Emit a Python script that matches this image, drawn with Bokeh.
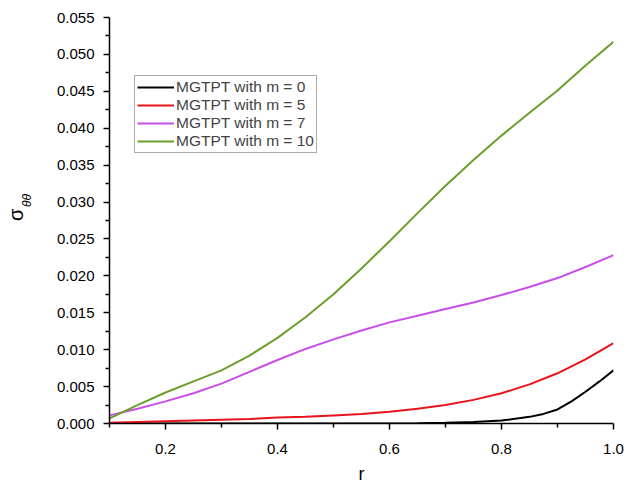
from bokeh.plotting import figure
from bokeh.models import Range1d, FixedTicker, Legend, LegendItem, LinearAxis, CustomJSTickFormatter
from bokeh.embed import file_html
from bokeh.resources import INLINE

r_vals = [0.10, 0.15, 0.20, 0.25, 0.30, 0.35, 0.40, 0.45, 0.50, 0.55,
          0.60, 0.65, 0.70, 0.75, 0.80, 0.85, 0.90, 0.95, 1.00]
m10 = [0.0007, 0.0025, 0.0042, 0.0057, 0.0072, 0.0092, 0.0116, 0.0144, 0.0175, 0.0210,
       0.0247, 0.0285, 0.0322, 0.0357, 0.0390, 0.0421, 0.0451, 0.0485, 0.0517]
m7 = [0.0011, 0.0020, 0.0030, 0.0041, 0.0054, 0.0070, 0.0086, 0.0101, 0.0114, 0.0126,
      0.0137, 0.0146, 0.0155, 0.0164, 0.0174, 0.0185, 0.0197, 0.0212, 0.0228]
m5 = [0.0001, 0.0002, 0.0003, 0.0004, 0.0005, 0.0006, 0.0008, 0.0009, 0.0011, 0.0013,
      0.0016, 0.0020, 0.0025, 0.0032, 0.0041, 0.0053, 0.0068, 0.0087, 0.0109]
r0 = [0.10, 0.20, 0.30, 0.40, 0.50, 0.60, 0.65, 0.70, 0.75, 0.80, 0.85, 0.875,
      0.90, 0.925, 0.95, 0.975, 1.00]
m0 = [0.0, 0.0, 0.0, 0.0, 0.0, 0.0, 0.00003, 0.0001, 0.0002, 0.0004, 0.0009, 0.0013,
      0.0019, 0.0030, 0.0043, 0.0057, 0.0072]

series_labels = ["MGTPT with m = 0", "MGTPT with m = 5", "MGTPT with m = 7", "MGTPT with m = 10"]
colors = ["#000000", "#e8141b", "#c84ee8", "#6a9f2c"]

x_ticks = [0.2, 0.4, 0.6, 0.8, 1.0]
x_minor = [0.1, 0.3, 0.5, 0.7, 0.9]
y_ticks = [0.000, 0.005, 0.010, 0.015, 0.020, 0.025, 0.030, 0.035, 0.040, 0.045, 0.050, 0.055]
y_minor = [0.0025, 0.0075, 0.0125, 0.0175, 0.0225, 0.0275, 0.0325, 0.0375, 0.0425, 0.0475, 0.0525]

FONT = "Liberation Sans"
NBSP = "\u00a0"

p = figure(width=634, height=486, output_backend="svg", toolbar_location=None,
           x_range=Range1d(0.1, 1.0), y_range=Range1d(0.0, 0.055),
           min_border_left=109, min_border_right=21, min_border_top=17, min_border_bottom=63)
p.outline_line_color = None
p.background_fill_color = "white"
p.border_fill_color = "white"
p.xgrid.visible = False
p.ygrid.visible = False

xs_list = [r0, r_vals, r_vals, r_vals]
ys_list = [m0, m5, m7, m10]
renderers = []
for xs, ys, c in zip(xs_list, ys_list, colors):
    renderers.append(p.line(xs, ys, line_color=c, line_width=2))

p.xaxis.ticker = FixedTicker(ticks=x_ticks, minor_ticks=x_minor)
p.yaxis.ticker = FixedTicker(ticks=y_ticks, minor_ticks=y_minor)
p.yaxis.formatter = CustomJSTickFormatter(code="return tick.toFixed(3);")
p.xaxis.formatter = CustomJSTickFormatter(code="return tick.toFixed(1);")

for ax in (p.xaxis, p.yaxis):
    ax.axis_line_width = 1.5
    ax.axis_line_color = "black"
    ax.major_tick_line_color = "black"
    ax.major_tick_line_width = 1.5
    ax.minor_tick_line_color = "black"
    ax.minor_tick_line_width = 1.5
    ax.major_tick_out = 6
    ax.major_tick_in = 0
    ax.minor_tick_out = 4
    ax.minor_tick_in = 0
    ax.major_label_text_font = FONT
    ax.major_label_text_font_size = "15px"
    ax.major_label_text_color = "black"
    ax.axis_label_text_font = FONT
    ax.axis_label_text_font_style = "normal"
    ax.axis_label_text_color = "black"

p.xaxis.major_label_standoff = 14
p.yaxis.major_label_standoff = 9
p.xaxis.axis_label = "r"
p.xaxis.axis_label_text_font_size = "18px"
p.xaxis.axis_label_standoff = 7


def label_axis(text, size, style, standoff):
    a = LinearAxis(ticker=FixedTicker(ticks=[]), axis_label=text)
    a.axis_line_color = None
    a.major_tick_line_color = None
    a.minor_tick_line_color = None
    a.major_tick_out = 0
    a.major_tick_in = 0
    a.minor_tick_out = 0
    a.minor_tick_in = 0
    a.major_label_standoff = 0
    a.major_label_text_font_size = "1px"
    a.axis_label_text_font = FONT
    a.axis_label_text_font_size = size
    a.axis_label_text_font_style = style
    a.axis_label_text_color = "black"
    a.axis_label_standoff = standoff
    return a


# y axis label: sigma with subscript theta-theta (rotated axis labels of two bare axes);
# leading no-break spaces lift each part along the axis
p.add_layout(label_axis(NBSP * 12 + "θθ", "12px", "italic", 20), "left")
p.add_layout(label_axis(NBSP * 2 + "σ", "20px", "normal", -10), "left")

legend = Legend(items=[LegendItem(label=l, renderers=[rd]) for l, rd in zip(series_labels, renderers)],
                location=(25, 270))
legend.label_text_font = FONT
legend.label_text_font_size = "15.5px"
legend.label_height = 18
legend.glyph_height = 18
legend.glyph_width = 37
legend.label_standoff = 2
legend.spacing = 0
legend.padding = 2
legend.margin = 0
legend.border_line_color = "#555555"
legend.border_line_width = 1
legend.background_fill_alpha = 1.0
p.add_layout(legend)

open("out.html", "w").write(file_html(p, INLINE))
